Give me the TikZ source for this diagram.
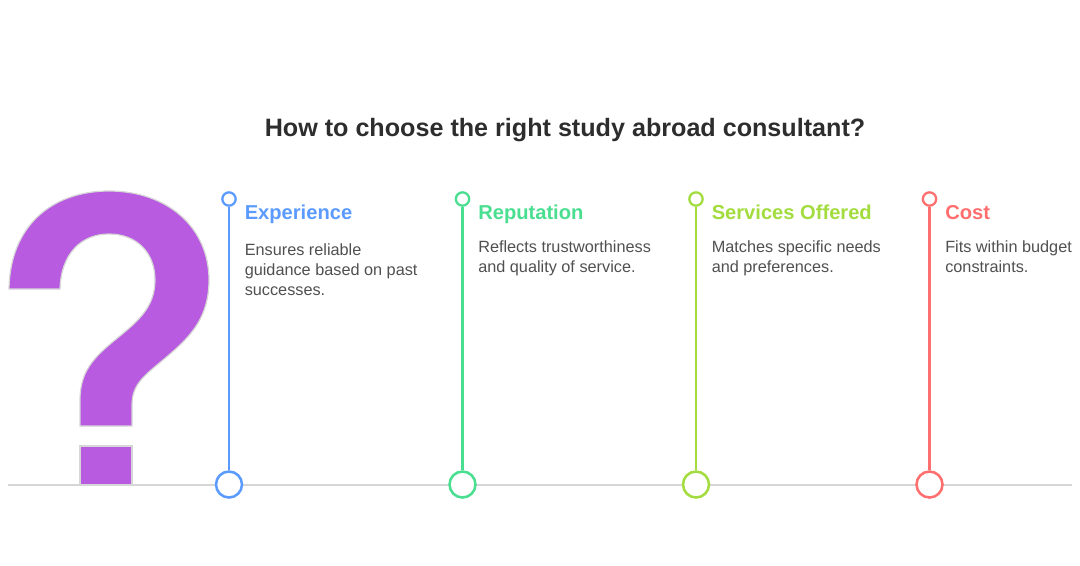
\documentclass[tikz,border=0pt]{standalone}
\usepackage{fontspec}
\setmainfont{Liberation Sans}
\usepackage{tikz}
\definecolor{myblue}{RGB}{91,155,255}
\definecolor{mygreen}{RGB}{74,222,144}
\definecolor{mylime}{RGB}{163,220,63}
\definecolor{myred}{RGB}{255,111,111}
\definecolor{mypurple}{RGB}{184,91,224}
\definecolor{myaxis}{RGB}{214,214,214}
\definecolor{mytitle}{RGB}{45,45,45}
\definecolor{mybody}{RGB}{80,80,80}
\tikzset{
    x=0.75pt, y=-0.75pt,
    title/.style={font=\fontsize{18.85}{24}\selectfont\bfseries, text=mytitle, inner sep=0pt},
    head/.style={anchor=base west, font=\fontsize{15.1}{19}\selectfont\bfseries, inner sep=0pt},
    body/.style={anchor=north west, align=left, font=\fontsize{12.2}{15}\selectfont, text=mybody, inner sep=0pt},
    topdot/.style={draw=#1, fill=white, circle, line width=1.7pt, inner sep=0pt, minimum size=10pt},
    basedot/.style={draw=#1, fill=white, circle, line width=1.9pt, inner sep=0pt, minimum size=19.5pt},
    stem/.style={draw=#1, line width=1.8pt},
    axis/.style={draw=myaxis, line width=1.5pt}
}
\begin{document}
\begin{tikzpicture}
    \useasboundingbox (0,0) rectangle (1080,565);

    \coordinate (AXL) at (8,484.5);
    \coordinate (AXR) at (1072,484.5);
    \draw[axis] (AXL) -- (AXR);

    % question mark
    \draw[myaxis, fill=mypurple, line width=0.9pt]
        (9,289) .. controls (10,226) and (52,191) .. (109,191)
        .. controls (168,191) and (209,228) .. (209,280)
        .. controls (209,316) and (192,335) .. (170,354)
        .. controls (147,374) and (132,382) .. (132,405)
        -- (132,426) -- (80,426) -- (80,400)
        .. controls (80,372) and (93,358) .. (115,340)
        .. controls (137,322) and (155,308) .. (155,280)
        .. controls (155,252) and (136,234) .. (109,234)
        .. controls (81,234) and (61,254) .. (60,289) -- cycle;
    \draw[myaxis, fill=mypurple, line width=0.9pt] (80,446) rectangle (132,484.5);

    \node[title] (TITLE) at (565,130) {How to choose the right study abroad consultant?};

    \node[topdot=myblue] (EXPTOP) at (229,199) {};
    \node[basedot=myblue] (EXPBASE) at (229,484.5) {};
    \draw[stem=myblue] (EXPTOP) -- (EXPBASE);
    \node[head, text=myblue] (EXP) at (244.5,219) {Experience};
    \node[body] (EXPTXT) at (244.5,243) {Ensures reliable\\guidance based on past\\successes.};

    \node[topdot=mygreen] (REPTOP) at (462.5,199) {};
    \node[basedot=mygreen] (REPBASE) at (462.5,484.5) {};
    \draw[stem=mygreen] (REPTOP) -- (REPBASE);
    \node[head, text=mygreen] (REP) at (478,219) {Reputation};
    \node[body] (REPTXT) at (478,240) {Reflects trustworthiness\\and quality of service.};

    \node[topdot=mylime] (SRVTOP) at (696,199) {};
    \node[basedot=mylime] (SRVBASE) at (696,484.5) {};
    \draw[stem=mylime] (SRVTOP) -- (SRVBASE);
    \node[head, text=mylime] (SRV) at (711.5,219) {Services Offered};
    \node[body] (SRVTXT) at (711.5,240) {Matches specific needs\\and preferences.};

    \node[topdot=myred] (CSTTOP) at (929.5,199) {};
    \node[basedot=myred] (CSTBASE) at (929.5,484.5) {};
    \draw[stem=myred] (CSTTOP) -- (CSTBASE);
    \node[head, text=myred] (CST) at (945,219) {Cost};
    \node[body] (CSTTXT) at (945,240) {Fits within budget\\constraints.};
\end{tikzpicture}
\end{document}
